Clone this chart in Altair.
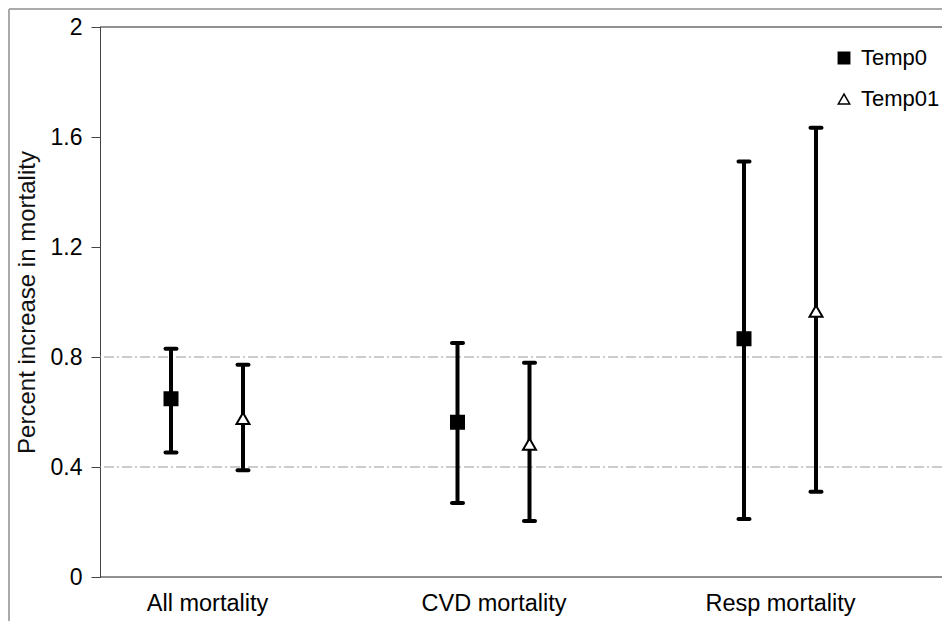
import altair as alt
import pandas as pd

categories = ["All mortality", "CVD mortality", "Resp mortality"]
series = ["Temp0", "Temp01"]

temp0_est = [0.648, 0.563, 0.866]
temp0_lo = [0.453, 0.269, 0.211]
temp0_hi = [0.830, 0.851, 1.511]

temp01_est = [0.577, 0.483, 0.967]
temp01_lo = [0.388, 0.204, 0.310]
temp01_hi = [0.772, 0.779, 1.634]

grid_values = [0.4, 0.8]
frame_values = [0, 2]
y_ticks = [0, 0.4, 0.8, 1.2, 1.6, 2]

rows = []
for s, est, lo, hi in [("Temp0", temp0_est, temp0_lo, temp0_hi),
                       ("Temp01", temp01_est, temp01_lo, temp01_hi)]:
    for c, e, l, h in zip(categories, est, lo, hi):
        rows.append({"category": c, "series": s, "est": e, "lo": l, "hi": h})
df = pd.DataFrame(rows)

FONT = "Liberation Sans"

yaxis = alt.Axis(
    title="Percent increase in mortality",
    values=y_ticks, format="~g", grid=False,
    domainColor="#444", domainWidth=1, tickColor="#444", tickSize=9,
    labelPadding=9, labelFontSize=23, labelColor="black",
    titleFontSize=24, titleFontWeight="normal", titleColor="#111",
    titlePadding=11,
)
yscale = alt.Scale(domain=[0, 2], nice=False, zero=True)

xenc = alt.X(
    "category:N",
    scale=alt.Scale(type="point", domain=categories, range=[107, 680], padding=0),
    axis=alt.Axis(title=None, domain=False, ticks=False, labelAngle=0,
                  labelPadding=14, labelFontSize=23.5, labelColor="black"),
)
xoff = alt.XOffset(
    "series:N",
    scale=alt.Scale(type="point", domain=series, range=[-36, 36], padding=0),
)

legend = alt.Legend(
    title=None, orient="none", legendX=733, legendY=20,
    labelFontSize=22, labelFont=FONT, labelColor="black", labelOffset=6,
    rowPadding=19, symbolSize=130, symbolStrokeColor="black",
    symbolStrokeWidth=1.5, padding=0,
)

base = alt.Chart(df)

grid = alt.Chart(pd.DataFrame({"g": grid_values})).mark_rule(
    color="#999", strokeDash=[10, 3, 2, 3], strokeWidth=1
).encode(y=alt.Y("g:Q", scale=yscale, axis=yaxis))

frame = alt.Chart(pd.DataFrame({"b": frame_values})).mark_rule(
    color="#222", strokeWidth=1.2
).encode(y=alt.Y("b:Q", scale=yscale, axis=yaxis))

outer_left = alt.Chart(pd.DataFrame({"k": [0]})).mark_rule(
    color="#aaa", strokeWidth=2
).encode(x=alt.value(-91), y=alt.value(-18), y2=alt.value(620))

outer_top = alt.Chart(pd.DataFrame({"k": [0]})).mark_rule(
    color="#aaa", strokeWidth=2
).encode(x=alt.value(-91), x2=alt.value(900), y=alt.value(-18))

bars = base.mark_rule(color="black", strokeWidth=4).encode(
    x=xenc, xOffset=xoff,
    y=alt.Y("lo:Q", scale=yscale, axis=yaxis), y2="hi:Q",
)
cap_lo = base.mark_tick(color="black", thickness=4, size=15, cornerRadius=2, opacity=1).encode(
    x=xenc, xOffset=xoff, y=alt.Y("lo:Q", scale=yscale, axis=yaxis)
)
cap_hi = base.mark_tick(color="black", thickness=4, size=15, cornerRadius=2, opacity=1).encode(
    x=xenc, xOffset=xoff, y=alt.Y("hi:Q", scale=yscale, axis=yaxis)
)
points = base.mark_point(filled=True, strokeWidth=2, size=169, opacity=1).encode(
    x=xenc, xOffset=xoff,
    y=alt.Y("est:Q", scale=yscale, axis=yaxis),
    shape=alt.Shape("series:N", scale=alt.Scale(domain=series, range=["square", "triangle-up"]), legend=legend),
    fill=alt.Fill("series:N", scale=alt.Scale(domain=series, range=["black", "white"]), legend=legend),
    stroke=alt.Stroke("series:N", scale=alt.Scale(domain=series, range=["black", "black"]), legend=legend),
)

chart = alt.layer(grid, frame, outer_left, outer_top, bars, cap_lo, cap_hi, points).properties(
    width=842, height=550,
    autosize=alt.AutoSizeParams(type="none"),
    padding={"left": 92, "top": 19, "right": 0, "bottom": 44},
).configure(font=FONT).configure_view(stroke=None)

chart.save("out.html", embed_options={"renderer": "svg", "actions": False})
